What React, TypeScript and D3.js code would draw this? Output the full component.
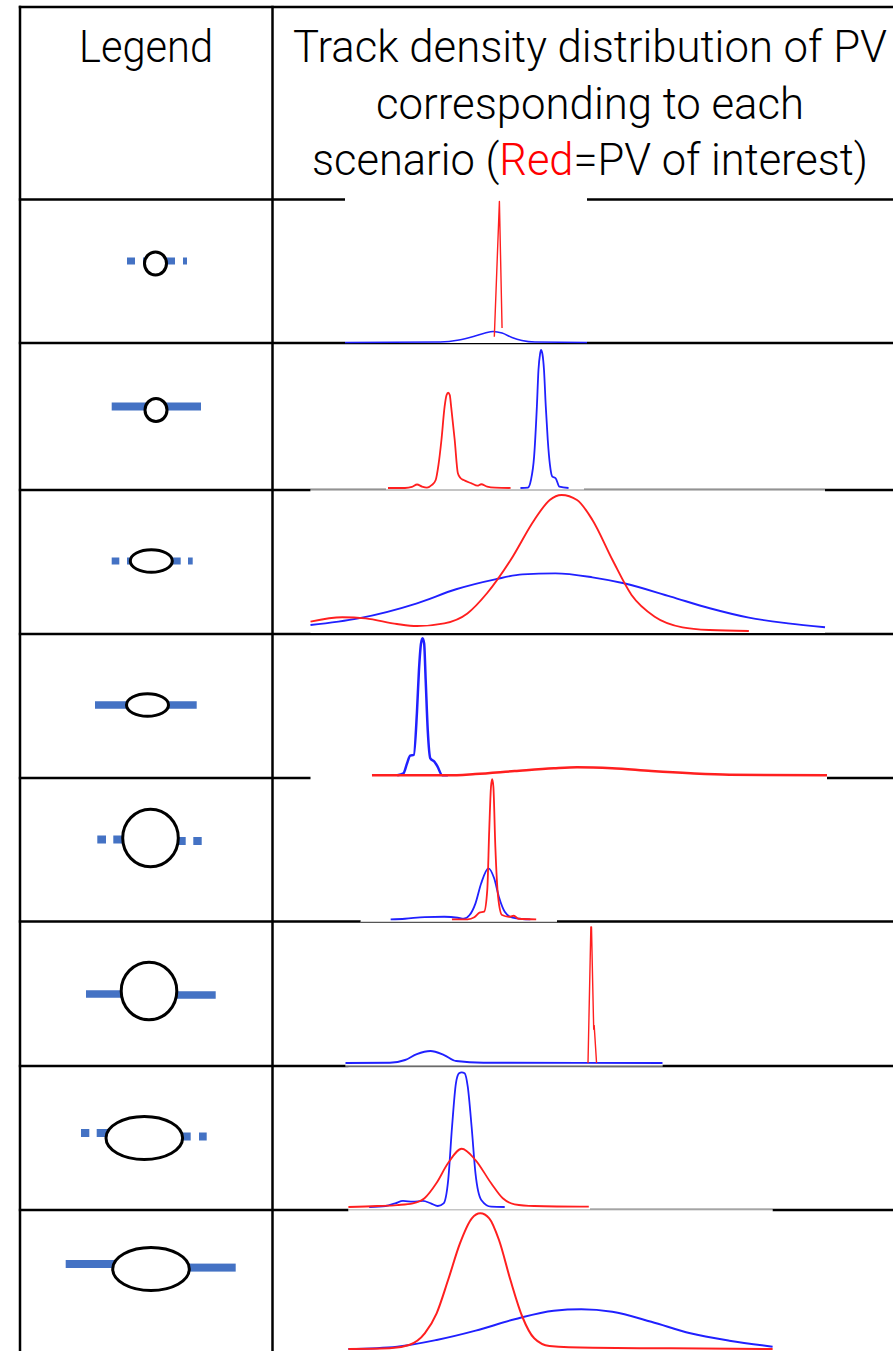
import * as d3 from 'd3';

// ---- header text ----
const legendTitle = 'Legend';
const headerLines = ['Track density distribution of PV', 'corresponding to each'];
const headerLast = ['scenario (', 'Red', '=PV of interest)'];

// ---- scenario legend (what each row shows) ----
const vertexShape = ['circle', 'circle', 'ellipse', 'ellipse', 'circle', 'circle', 'ellipse', 'ellipse'];
const vertexSize = ['small', 'small', 'small', 'small', 'large', 'large', 'large', 'large'];
const trackStyle = ['dashed', 'solid', 'dashed', 'solid', 'dashed', 'solid', 'dashed', 'solid'];

// ---- track density samples: [position (% of panel), density (% of panel height)] ----
// red = PV of interest, blue = other PV
const red1 = [[61.7, 4.0], [63.8, 98.3], [64.9, 10.1]];
const blue1 = [[0, 0], [39.3, 0.3], [47.1, 1.7], [53.7, 4.5], [57.9, 6.6], [61.2, 7.7], [64.9, 6.6], [69, 3.5], [73.1, 1.4], [78.5, 0.3], [100, 0]];

const red2 = [[1, 0], [9.6, 0], [13.1, 0.7], [15.7, 2.4], [18.2, 1.0], [20.7, 0.3], [23.2, 2.1], [25.1, 5.5], [26.5, 15.9], [28.0, 33.1], [29.6, 56.1], [30.6, 64.1], [31.4, 65.7], [32.2, 64.1], [32.9, 56.1], [34.7, 33.1], [36.3, 10.1], [37.6, 6.9], [39.2, 5.5], [43.2, 3.2], [46.2, 1.6], [48.1, 2.6], [51.1, 0.9], [55.1, 0.2], [62.9, 0]];
const blue2 = [[67.9, 0], [71.7, 0.3], [73.2, 5.5], [74.8, 21.6], [76.2, 56.1], [77.0, 81.4], [77.8, 92.4], [78.3, 95.2], [79.0, 92.4], [79.8, 81.4], [80.7, 56.1], [81.7, 33.1], [82.8, 15.9], [84.0, 7.8], [85.7, 6.7], [87.6, 0.9], [92.2, 0]];

const red3 = [[0, 7.3], [6.2, 10.4], [10.7, 9.6], [16.8, 5.6], [20.7, 4.2], [26.0, 6.1], [30.5, 13.1], [34.3, 27.3], [38.9, 50.7], [43.5, 78.9], [46.5, 93.0], [48.8, 96.5], [51.8, 93.0], [54.8, 78.9], [58.7, 50.7], [62.4, 26.1], [66.9, 10.8], [72.3, 3.3], [77.6, 1.4], [85.2, 0.7]];
const blue3 = [[0, 4.9], [9.3, 9.6], [20.7, 20.2], [28.3, 30.1], [35.9, 37.1], [41.2, 40.6], [47.6, 41.3], [54.8, 38.5], [60.9, 34.3], [70.0, 24.9], [77.6, 16.7], [85.2, 10.1], [92.8, 6.1], [100, 3.3]];

const red4 = [[11.9, 0], [26.6, 0], [31.9, 0.9], [39.5, 3.0], [47.1, 5.0], [51.6, 5.7], [58.4, 5.0], [66.0, 3.0], [73.6, 1.4], [81.1, 0.4], [100, 0]];
const blue4 = [[16.8, 0], [18.0, 1.4], [18.7, 8.5], [19.3, 13.9], [20.0, 14.4], [20.6, 43.9], [21.0, 74.5], [21.4, 93.4], [21.7, 97.0], [22.0, 93.4], [22.3, 67.4], [22.7, 32.0], [23.2, 12.0], [24.0, 9.6], [24.6, 6.1], [25.5, 0], [26.6, 0]];

const red5 = [[46.5, 0], [54.5, 0], [57.9, 1.4], [60.5, 4.7], [62.9, 5.4], [64.5, 20.8], [65.5, 63.3], [66.4, 94.0], [67.0, 99.1], [67.6, 94.0], [68.6, 51.5], [70.0, 16.0], [72.0, 3.0], [75.4, 1.8], [78.0, 2.5], [80.4, 0.4], [89.4, 0]];
const blue5 = [[15.3, 0], [22.6, 0.4], [32.6, 1.6], [42.6, 1.8], [49.5, 1.1], [52.5, 0.4], [55.5, 3.0], [58.5, 11.3], [61.4, 25.5], [65.1, 36.1], [68.0, 29.0], [70.4, 16.0], [73.4, 5.4], [77.4, 1.1], [82.4, 0.2], [86.4, 0]];

const red6 = [[76.5, 0], [77.4, 95.8], [77.6, 95.8], [78.0, 53.7], [78.3, 23.7], [78.45, 26.5], [78.6, 21.1], [79.2, 0]];
const blue6 = [[0, 0], [14.0, 0.2], [18.8, 2.1], [22.5, 6.3], [26.8, 8.5], [31.1, 5.6], [34.9, 1.4], [43.5, 0.2], [100, 0]];

const red7 = [[0, 0], [12.1, 0.7], [20.2, 1.4], [26.7, 2.6], [31.5, 6.2], [36.4, 16.8], [41.2, 31.0], [46.9, 41.3], [52.6, 33.3], [59.1, 16.8], [63.9, 6.2], [68.8, 1.9], [76.9, 0.7], [99.5, 0.2]];
const blue7 = [[8.6, 0], [15.4, 0.7], [19.4, 2.6], [22.6, 4.3], [26.7, 3.8], [30.8, 4.3], [34.1, 2.6], [37.0, 0.7], [39.4, 2.6], [41.3, 19.1], [42.9, 56.9], [44.5, 87.7], [45.8, 94.8], [46.9, 95.5], [48.1, 94.8], [49.4, 85.3], [51.0, 56.9], [52.6, 23.8], [55.0, 5.0], [59.1, 0.2], [64.7, 0]];

const red8 = [[0, 0], [9.7, 0.5], [14.3, 2.9], [18.0, 11.3], [20.8, 25.7], [23.5, 49.6], [26.3, 76.0], [29.1, 94.0], [31.1, 97.6], [33.2, 94.0], [35.5, 78.4], [38.2, 49.6], [41.0, 23.2], [43.8, 7.7], [47.4, 2.2], [57.6, 0.9], [76.0, 0.5], [100, 0]];
const blue8 = [[0, 0], [11.5, 1.7], [20.8, 6.5], [30.0, 13.2], [39.2, 21.4], [48.4, 27.6], [54.9, 28.6], [62.2, 26.8], [71.4, 19.6], [80.6, 11.3], [89.8, 6.0], [100, 1.7]];

const redCurves = [red1, red2, red3, red4, red5, red6, red7, red8];
const blueCurves = [blue1, blue2, blue3, blue4, blue5, blue6, blue7, blue8];

// ---- layout ----
const W = 893;
const H = 1351;
const tableLeft = 20;
const colDivider = 272.5;
const rowLines = [7, 199.5, 343, 490, 634, 778, 921.5, 1066, 1210];

// pasted plot images: extent of white background + baseline/top of each plot
const panels = [
  { x0: 345, x1: 587, top: 199, base: 342.5, mask: [345, 198, 587, 343] },
  { x0: 386, x1: 584, top: 343, base: 488, mask: [386, 345, 584, 490.6] },
  { x0: 310.5, x1: 825, top: 490, base: 632, mask: [310.5, 489.4, 825, 633] },
  { x0: 310.5, x1: 827, top: 634, base: 775.3, mask: [310.5, 636, 827, 780] },
  { x0: 360.6, x1: 557, top: 778, base: 919.3, mask: [360.6, 780, 557, 922.5] },
  { x0: 345.5, x1: 662.5, top: 921, base: 1063, mask: [345.5, 923.5, 662.5, 1066.5] },
  { x0: 348.4, x1: 590, top: 1066, base: 1207, mask: [348.4, 1067.5, 590, 1209.5] },
  { x0: 348.4, x1: 772.6, top: 1210, base: 1349, mask: [348.4, 1209.5, 772.6, 1351] },
];
const maskOrder = [2, 1, 0, 3, 4, 5, 6, 7];
const panelEdges = [
  { x0: 310.5, x1: 825, y: 490, color: '#8a8a8a' },
  { x0: 360.6, x1: 557, y: 922.3, color: '#555' },
  { x0: 345.5, x1: 662.5, y: 1066, color: '#555' },
  { x0: 348.4, x1: 772.6, y: 1210, color: '#c8c8c8' },
];
const lineWidth = [1.6, 1.8, 1.9, 2.5, 1.8, 1.9, 1.8, 2];
const spiky = [true, false, false, false, false, true, false, false];

const legendLayout = [
  { cx: 155.5, cy: 263.5, t: 7, left: [[127, 135], [143, 150]], right: [[161, 175], [183, 187]], yl: 261, yr: 261 },
  { cx: 156, cy: 410, t: 8, left: [[111.7, 150]], right: [[160, 201]], yl: 406.5, yr: 406.5 },
  { cx: 151.3, cy: 561, t: 7, left: [[111.7, 119.3], [127, 135]], right: [[168, 180.7], [188, 192.7]], yl: 561, yr: 561 },
  { cx: 147.5, cy: 705, t: 7.5, left: [[95, 132]], right: [[162, 196.7]], yl: 705, yr: 705 },
  { cx: 150.5, cy: 838, t: 8, left: [[97.3, 106], [113.3, 125]], right: [[176, 185.7], [193.3, 201.7]], yl: 839.5, yr: 841 },
  { cx: 149, cy: 991, t: 7.5, left: [[86, 125]], right: [[172, 215.7]], yl: 994, yr: 995 },
  { cx: 144.3, cy: 1138, t: 8, left: [[81, 89.3], [96.7, 108]], right: [[180, 190.7], [199, 206.7]], yl: 1133, yr: 1136.5 },
  { cx: 151, cy: 1269, t: 8, left: [[65.7, 116]], right: [[186, 235.7]], yl: 1264, yr: 1267.6 },
];
const vertexRadius: Record<string, [number, number]> = {
  'small-circle': [11, 11.5],
  'small-ellipse': [21, 11.3],
  'large-circle': [27.8, 28.8],
  'large-ellipse': [38.3, 21.5],
};

const RED = '#ff1f1f';
const BLUE = '#2020ff';
const LEGEND_BLUE = '#4472c4';
const FONT = 'Roboto, "Open Sans", sans-serif';

function Panel({ i }: { i: number }) {
  const p = panels[i];
  const x = d3.scaleLinear().domain([0, 100]).range([p.x0, p.x1]);
  const y = d3.scaleLinear().domain([0, 100]).range([p.base, p.top]);
  const line = d3
    .line<number[]>()
    .x(d => x(d[0]))
    .y(d => y(d[1]))
    .curve(d3.curveMonotoneX);
  const spike = d3
    .line<number[]>()
    .x(d => x(d[0]))
    .y(d => y(d[1]));
  return (
    <g>
      <path d={line(blueCurves[i]) || ''} fill="none" stroke={BLUE} strokeWidth={lineWidth[i]} />
      <path
        d={(spiky[i] ? spike : line)(redCurves[i]) || ''}
        fill="none"
        stroke={RED}
        strokeWidth={spiky[i] ? 1.4 : lineWidth[i]}
        strokeLinejoin="round"
      />
    </g>
  );
}

function LegendIcon({ i }: { i: number }) {
  const L = legendLayout[i];
  const [rx, ry] = vertexRadius[`${vertexSize[i]}-${vertexShape[i]}`];
  return (
    <g>
      {L.left.map((s, k) => (
        <rect key={'l' + k} x={s[0]} y={L.yl - L.t / 2} width={s[1] - s[0]} height={L.t} fill={LEGEND_BLUE} />
      ))}
      {L.right.map((s, k) => (
        <rect key={'r' + k} x={s[0]} y={L.yr - L.t / 2} width={s[1] - s[0]} height={L.t} fill={LEGEND_BLUE} />
      ))}
      <ellipse cx={L.cx} cy={L.cy} rx={rx} ry={ry} fill="#fff" stroke="#000" strokeWidth={3} />
      <title>{`${vertexSize[i]} ${vertexShape[i]} vertex, ${trackStyle[i]} tracks`}</title>
    </g>
  );
}

export default function App() {
  return (
    <svg
      width={W}
      height={H}
      style={{ position: 'absolute', left: 0, top: 0, background: '#fff' }}
      fontFamily={FONT}
    >
      <rect width={W} height={H} fill="#fff" />
      {/* table grid */}
      {rowLines.map(y => (
        <line key={y} x1={tableLeft - 1.2} x2={W} y1={y} y2={y} stroke="#000" strokeWidth={2.5} />
      ))}
      <line x1={tableLeft} x2={tableLeft} y1={rowLines[0] - 1.2} y2={H} stroke="#000" strokeWidth={2.5} />
      <line x1={colDivider} x2={colDivider} y1={rowLines[0] - 1.2} y2={H} stroke="#000" strokeWidth={2.5} />

      {/* header */}
      <text x={146} y={62} textAnchor="middle" fontSize={44} fontWeight={300} textLength={134} lengthAdjust="spacingAndGlyphs">
        {legendTitle}
      </text>
      {headerLines.map((t, k) => (
        <text
          key={k}
          x={590}
          y={62 + k * 56.5}
          textAnchor="middle"
          fontSize={44}
          fontWeight={300}
          textLength={k === 0 ? 594 : 428}
          lengthAdjust="spacingAndGlyphs"
        >
          {t}
        </text>
      ))}
      <text x={590} y={175} textAnchor="middle" fontSize={44} fontWeight={300} textLength={556} lengthAdjust="spacingAndGlyphs">
        <tspan>{headerLast[0]}</tspan>
        <tspan fill="#ff0000">{headerLast[1]}</tspan>
        <tspan>{headerLast[2]}</tspan>
      </text>

      {/* pasted plot backgrounds */}
      {maskOrder.map(i => {
        const m = panels[i].mask;
        return <rect key={'m' + i} x={m[0]} y={m[1]} width={m[2] - m[0]} height={m[3] - m[1]} fill="#fff" />;
      })}
      {panelEdges.map((e, k) => (
        <line key={'e' + k} x1={e.x0} x2={e.x1} y1={e.y} y2={e.y} stroke={e.color} strokeWidth={1.2} />
      ))}

      {panels.map((_, i) => (
        <Panel key={'p' + i} i={i} />
      ))}
      {legendLayout.map((_, i) => (
        <LegendIcon key={'g' + i} i={i} />
      ))}
    </svg>
  );
}
